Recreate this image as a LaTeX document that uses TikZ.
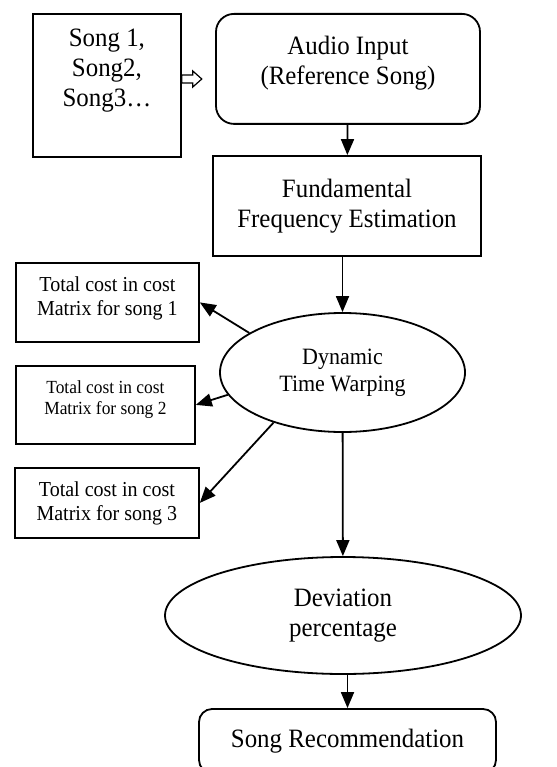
\documentclass[tikz,border=0pt]{standalone}
\usepackage{fontspec}
\setmainfont[FakeStretch=0.94]{Liberation Serif}
\usetikzlibrary{arrows.meta,shapes.geometric}

% text kept at the top of a box
\newcommand{\toptext}[3]{\parbox[c][#1][t]{#2}{\centering #3}}

\begin{document}
\begin{tikzpicture}[x=1pt, y=-1pt, line width=1.8pt,
    >={Triangle[length=16pt,width=13pt]},
    box/.style={draw, inner sep=0pt, align=center},
    oval/.style={draw, ellipse, inner sep=0pt, align=center},
    big/.style={font=\fontsize{26.5}{30}\selectfont}]
    \useasboundingbox (0,0) rectangle (556,767);

    % input side
    \node[box, big, anchor=north west, inner ysep=15pt] (songs) at (32,13)
        {\toptext{113pt}{148pt}{Song 1,\\Song2,\\Song3…}};
    \node[box, big, rounded corners=18pt, anchor=north, inner ysep=22pt, minimum width=264pt] (audio) at (348,13)
        {\toptext{66pt}{250pt}{Audio Input\\(Reference Song)}};
    % hollow arrow from the song list
    \draw[line width=1.2pt] (songs.east |- 0,75) -- ++(11,0) -- ++(0,-4) -- ++(9,8) -- ++(-9,8) -- ++(0,-4) -- ++(-11,0) -- cycle;

    % main chain
    \node[box, big, minimum width=268pt, minimum height=100pt] (ffe) at (347,206) {Fundamental\\Frequency Estimation};
    \node[oval, font=\fontsize{23.4}{27}\selectfont, minimum width=245pt, minimum height=119pt] (dtw) at (342.5,372.5) {Dynamic\\Time Warping};
    \node[oval, big, minimum width=356pt, minimum height=117pt] (dev) at (343,615.5) {Deviation\\percentage};
    \node[box, big, rounded corners=13pt, minimum width=297pt, minimum height=64pt] (rec) at (347.5,741) {Song Recommendation};

    % cost boxes on the left
    \node[box, font=\fontsize{21.3}{24}\selectfont, anchor=north west, inner ysep=14pt] (cost1) at (15,262)
        {\toptext{51pt}{183pt}{Total cost in cost\\Matrix for song 1}};
    \node[box, font=\fontsize{18.5}{21}\selectfont, anchor=north west, inner ysep=15pt] (cost2) at (15,365)
        {\toptext{48pt}{179pt}{Total cost in cost\\Matrix for song 2}};
    \node[box, font=\fontsize{21.3}{24}\selectfont, anchor=north west, inner ysep=14pt] (cost3) at (14,467)
        {\toptext{42pt}{184pt}{Total cost in cost\\Matrix for song 3}};

    % arrows
    \draw[->] (audio) -- (ffe);
    \draw[->] (ffe.south -| dtw) -- (dtw);
    \draw[->] (dtw.157) -- (cost1.east);
    \draw[->] (dtw.191) -- (cost2.east);
    \draw[->] (dtw.216) -- (cost3.east);
    \draw[->] (dtw) -- (dev);
    \draw[->] (dev.south -| rec) -- (rec);

\end{tikzpicture}
\end{document}
